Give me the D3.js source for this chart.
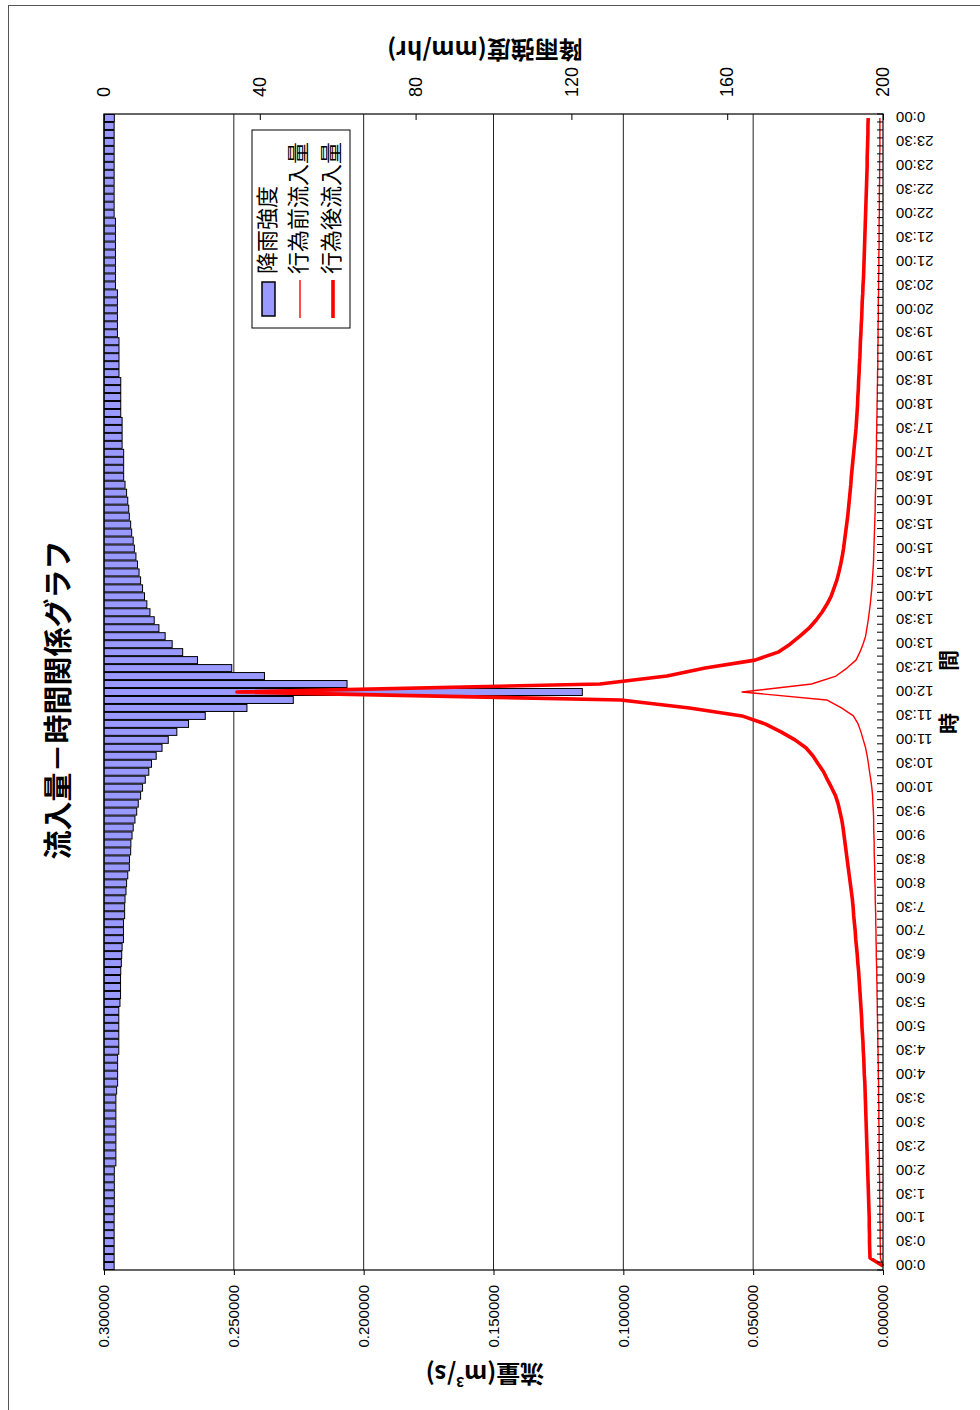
<!DOCTYPE html>
<html>
<head>
<meta charset="utf-8">
<script src="https://cdn.jsdelivr.net/npm/d3@7"></script>
<style>
  body { margin: 0; background: #fff; }
  .num { font-family: "Liberation Sans", Arial, sans-serif; }
  .jp { font-family: "Noto Sans CJK JP", sans-serif; }
</style>
</head>
<body>
<script>
// 10-minute steps, 0:00 .. 24:00 (145 points)
const rainfall = [
  2.6, 2.6, 2.6, 2.6, 2.6, 2.6, 2.6, 2.65, 2.65, 2.65, 2.65, 2.65,
  2.65, 3.05, 3.05, 3.05, 3.05, 3.05, 3.05, 3.05, 3.05, 3.05, 3.25, 3.5,
  3.5, 3.5, 3.5, 3.8, 3.8, 3.8, 3.8, 3.8, 3.8, 4.1, 4.25, 4.25,
  4.25, 4.3, 4.45, 4.55, 4.65, 5.0, 5.0, 5.0, 5.3, 5.3, 5.4, 5.65,
  5.8, 6.1, 6.5, 6.55, 6.85, 6.9, 7.2, 7.5, 7.95, 8.4, 8.8, 9.4,
  9.9, 10.6, 11.5, 12.2, 13.4, 14.9, 16.5, 18.7, 21.7, 26.0, 36.7, 48.6,
  122.8, 62.4, 41.2, 32.8, 24.0, 20.2, 17.5, 15.7, 14.1, 12.9, 11.8, 11.0,
  10.4, 9.9, 9.4, 9.0, 8.6, 8.2, 7.8, 7.5, 7.1, 6.85, 6.5, 6.35,
  6.1, 5.8, 5.4, 5.05, 5.05, 5.05, 5.05, 4.65, 4.65, 4.65, 4.65, 4.3,
  4.3, 4.3, 4.3, 4.3, 3.85, 3.85, 3.85, 3.85, 3.85, 3.45, 3.45, 3.45,
  3.45, 3.45, 3.45, 2.95, 2.95, 2.95, 2.95, 2.95, 2.95, 2.95, 2.95, 2.95,
  2.6, 2.6, 2.6, 2.6, 2.6, 2.6, 2.6, 2.6, 2.6, 2.6, 2.6, 2.6,
  2.65
];

// 行為前流入量
const flowBefore = [
  0,
  0.0010, 0.0010, 0.0011, 0.0011, 0.0011, 0.0012, 0.0012, 0.0012, 0.0013, 0.0013,
  0.0013, 0.0014, 0.0014, 0.0014, 0.0015, 0.0015, 0.0015, 0.0016, 0.0016, 0.0016,
  0.0017, 0.0017, 0.0017, 0.0018, 0.0018, 0.0019, 0.0019, 0.0020, 0.0020, 0.0021,
  0.0021, 0.0022, 0.0022, 0.0023, 0.0023, 0.0024, 0.0024, 0.0025, 0.0026, 0.0026,
  0.0027, 0.0027, 0.0028, 0.0028, 0.0029, 0.0030, 0.0030, 0.0031, 0.0032, 0.0032,
  0.0033, 0.0034, 0.0034, 0.0035, 0.0036, 0.0036, 0.0037, 0.0039, 0.0040, 0.0043,
  0.0047, 0.0052, 0.0056, 0.0061, 0.0067, 0.0076, 0.0085, 0.0096, 0.0114, 0.0160, 0.0217,
  0.0543,
  0.0275, 0.0181, 0.0139, 0.0104, 0.0089, 0.0077, 0.0067, 0.0062, 0.0057, 0.0053, 0.0049,
  0.0046, 0.0043, 0.0041, 0.0039, 0.0037, 0.0036, 0.0035, 0.0034, 0.0033, 0.0032, 0.0031,
  0.0030, 0.0030, 0.0029, 0.0028, 0.0027, 0.0027, 0.0026, 0.0026, 0.0025, 0.0025, 0.0024,
  0.0024, 0.0023, 0.0023, 0.0022, 0.0022, 0.0021, 0.0021, 0.0020, 0.0020, 0.0020, 0.0019,
  0.0019, 0.0019, 0.0018, 0.0018, 0.0018, 0.0017, 0.0017, 0.0017, 0.0016, 0.0016, 0.0016,
  0.0015, 0.0015, 0.0015, 0.0015, 0.0014, 0.0014, 0.0014, 0.0014, 0.0013, 0.0013, 0.0013,
  0.0013, 0.0012, 0.0012, 0.0012, 0.0012, 0.0012
];

// 行為後流入量
const flowAfter = [
  0, 0.0050, 0.0051, 0.0052, 0.0052, 0.0053, 0.0053, 0.0054, 0.0055, 0.0056,
  0.0057, 0.0058, 0.0059, 0.0060, 0.0061, 0.0062, 0.0063, 0.0064, 0.0065, 0.0066,
  0.0067, 0.0068, 0.0069, 0.0070, 0.0072, 0.0073, 0.0074, 0.0076, 0.0077, 0.0079,
  0.0081, 0.0082, 0.0084, 0.0086, 0.0088, 0.0090, 0.0092, 0.0094, 0.0097, 0.0099,
  0.0102, 0.0105, 0.0107, 0.0110, 0.0113, 0.0115, 0.0118, 0.0122, 0.0126, 0.0130,
  0.0134, 0.0138, 0.0142, 0.0146, 0.0150, 0.0154, 0.0159, 0.0166, 0.0173, 0.0183,
  0.0198, 0.0214, 0.0229, 0.0250, 0.0270, 0.0297, 0.0339, 0.0393, 0.0454, 0.0543,
  0.0745, 0.1010, 0.2488, 0.1090, 0.0832, 0.0685, 0.0493, 0.0404, 0.0358, 0.0320,
  0.0285, 0.0258, 0.0235, 0.0216, 0.0200, 0.0189, 0.0178, 0.0170, 0.0163, 0.0157,
  0.0152, 0.0148, 0.0144, 0.0140, 0.0136, 0.0133, 0.0130, 0.0127, 0.0124, 0.0122,
  0.0119, 0.0116, 0.0113, 0.0110, 0.0107, 0.0104, 0.0102, 0.0100, 0.0098, 0.0097,
  0.0095, 0.0094, 0.0092, 0.0091, 0.0089, 0.0088, 0.0087, 0.0085, 0.0084, 0.0082,
  0.0081, 0.0080, 0.0078, 0.0077, 0.0075, 0.0074, 0.0073, 0.0072, 0.0071, 0.0070,
  0.0069, 0.0068, 0.0067, 0.0066, 0.0065, 0.0064, 0.0063, 0.0062, 0.0061, 0.0061,
  0.0060, 0.0059, 0.0058, 0.0058, 0.0057
];

// one label every 3rd step (30 min)
const timeLabels = [
  "0:00", "0:30", "1:00", "1:30", "2:00", "2:30", "3:00", "3:30", "4:00", "4:30",
  "5:00", "5:30", "6:00", "6:30", "7:00", "7:30", "8:00", "8:30", "9:00", "9:30",
  "10:00", "10:30", "11:00", "11:30", "12:00", "12:30", "13:00", "13:30", "14:00", "14:30",
  "15:00", "15:30", "16:00", "16:30", "17:00", "17:30", "18:00", "18:30", "19:00", "19:30",
  "20:00", "20:30", "21:00", "21:30", "22:00", "22:30", "23:00", "23:30", "0:00"
];
const flowTicks = [0, 0.05, 0.1, 0.15, 0.2, 0.25, 0.3];
const rainTicks = [0, 40, 80, 120, 160, 200];

const W = 980, H = 1410;
const svg = d3.select("body").append("svg")
              .attr("width", W)
              .attr("height", H);

svg.append("rect")
   .attr("x", 8.5).attr("y", 5.5)
   .attr("width", 1000).attr("height", 1500)
   .attr("fill", "none").attr("stroke", "#555");

// the chart is laid out upright, then turned a quarter turn to the left
const g = svg.append("g").attr("transform", `translate(0,${H}) rotate(-90)`);
const plot = {left: 140, right: 1296, top: 104, bottom: 883};

const idx = d3.range(rainfall.length);
const x = d3.scaleBand().domain(idx).range([plot.left, plot.right])
            .paddingInner(0.12).paddingOuter(0.06);
const bw = x.bandwidth();
const cx = i => x(i) + bw / 2;
const flowY = d3.scaleLinear().domain([0, 0.3]).range([plot.bottom, plot.top]);
const rainY = d3.scaleLinear().domain([0, 200]).range([plot.top, plot.bottom]);

// grid
g.append("g").selectAll("line")
 .data(flowTicks.filter(d => d > 0 && d < 0.3))
 .enter().append("line")
 .attr("x1", plot.left).attr("x2", plot.right)
 .attr("y1", d => flowY(d)).attr("y2", d => flowY(d))
 .attr("stroke", "#222").attr("stroke-width", 1);

// rain bars hang from the top
g.append("g").selectAll("rect")
 .data(rainfall)
 .enter().append("rect")
 .attr("x", (d, i) => x(i))
 .attr("y", rainY(0))
 .attr("width", bw)
 .attr("height", d => rainY(d) - rainY(0))
 .attr("fill", "#9999ff")
 .attr("stroke", "#000")
 .attr("stroke-width", 1);

const line = d3.line().x((d, i) => cx(i)).y(d => flowY(d));

g.append("path").datum(flowBefore)
 .attr("d", line).attr("fill", "none")
 .attr("stroke", "#ff0000").attr("stroke-width", 1.4)
 .attr("stroke-linejoin", "round");

g.append("path").datum(flowAfter)
 .attr("d", line).attr("fill", "none")
 .attr("stroke", "#ff0000").attr("stroke-width", 3.6)
 .attr("stroke-linejoin", "round");

// plot frame
g.append("rect")
 .attr("x", plot.left).attr("y", plot.top)
 .attr("width", plot.right - plot.left).attr("height", plot.bottom - plot.top)
 .attr("fill", "none").attr("stroke", "#000").attr("stroke-width", 1.2);

// flow axis (left)
const flowAxis = g.append("g")
  .attr("class", "num")
  .attr("transform", `translate(${plot.left},0)`)
  .call(d3.axisLeft(flowY).tickValues(flowTicks).tickFormat(d3.format(".6f"))
          .tickSizeInner(5).tickSizeOuter(0).tickPadding(10));
flowAxis.selectAll("text").style("font-size", "15px").attr("fill", "#000");
flowAxis.select(".domain").remove();

// rain axis (right, reversed)
const rainAxis = g.append("g")
  .attr("class", "num")
  .attr("transform", `translate(${plot.right},0)`)
  .call(d3.axisRight(rainY).tickValues(rainTicks)
          .tickSizeInner(-6).tickSizeOuter(0).tickPadding(17));
rainAxis.selectAll("text").style("font-size", "18px").attr("fill", "#000");
rainAxis.select(".domain").remove();

// time axis (bottom)
const ti = d3.scaleLinear().domain([0, idx.length - 1]).range([cx(0), cx(idx.length - 1)]);
g.append("g").selectAll("line")
 .data(d3.range(idx.length + 1))
 .enter().append("line")
 .attr("x1", i => plot.left + i * x.step()).attr("x2", i => plot.left + i * x.step())
 .attr("y1", plot.bottom - 6).attr("y2", plot.bottom)
 .attr("stroke", "#000");

const timeAxis = g.append("g")
  .attr("class", "num")
  .attr("transform", `translate(0,${plot.bottom})`)
  .call(d3.axisBottom(ti).tickValues(d3.range(0, idx.length, 3))
          .tickFormat(i => timeLabels[i / 3]).tickSize(0));
timeAxis.select(".domain").remove();
timeAxis.selectAll("text")
  .attr("x", -13).attr("y", 0).attr("dy", "0.35em")
  .attr("transform", "rotate(-90)")
  .style("text-anchor", "end")
  .style("font-size", "15px")
  .attr("fill", "#000");

// titles
g.append("text").attr("class", "jp")
 .attr("x", 710).attr("y", 61)
 .attr("text-anchor", "middle").attr("dominant-baseline", "middle")
 .style("font-size", "29px").style("font-weight", "bold")
 .text("流入量－時間関係グラフ");

g.append("text").attr("class", "jp")
 .attr("x", 718).attr("y", 950)
 .attr("text-anchor", "middle").attr("dominant-baseline", "middle")
 .style("font-size", "21px").style("font-weight", "bold")
 .text("時　　間");

const flowTitle = g.append("text").attr("class", "jp")
 .attr("transform", "translate(38,485) rotate(-90)")
 .attr("text-anchor", "middle").attr("dominant-baseline", "middle")
 .style("font-size", "24px").style("font-weight", "bold");
flowTitle.append("tspan").text("流量(m");
flowTitle.append("tspan").attr("dy", -9).style("font-size", "14px").text("3");
flowTitle.append("tspan").attr("dy", 9).text("/s)");

g.append("text").attr("class", "jp")
 .attr("transform", "translate(1362,485) rotate(-90)")
 .attr("text-anchor", "middle").attr("dominant-baseline", "middle")
 .style("font-size", "24px").style("font-weight", "bold")
 .text("降雨強度(mm/hr)");

// legend
const legend = g.append("g").attr("transform", "translate(1082,252)");
legend.append("rect")
 .attr("width", 198).attr("height", 98)
 .attr("fill", "#fff").attr("stroke", "#000");
legend.append("rect")
 .attr("x", 12).attr("y", 10).attr("width", 34).attr("height", 13)
 .attr("fill", "#9999ff").attr("stroke", "#000").attr("stroke-width", 1.5);
legend.append("line")
 .attr("x1", 10).attr("x2", 48).attr("y1", 48).attr("y2", 48)
 .attr("stroke", "#ff0000").attr("stroke-width", 1.4);
legend.append("line")
 .attr("x1", 10).attr("x2", 48).attr("y1", 81).attr("y2", 81)
 .attr("stroke", "#ff0000").attr("stroke-width", 3.6);
legend.selectAll("text.lg")
 .data(["降雨強度", "行為前流入量", "行為後流入量"])
 .enter().append("text").attr("class", "jp lg")
 .attr("x", 54).attr("y", (d, i) => [17, 48, 81][i])
 .attr("dominant-baseline", "middle")
 .style("font-size", "22px")
 .text(d => d);
</script>
</body>
</html>
